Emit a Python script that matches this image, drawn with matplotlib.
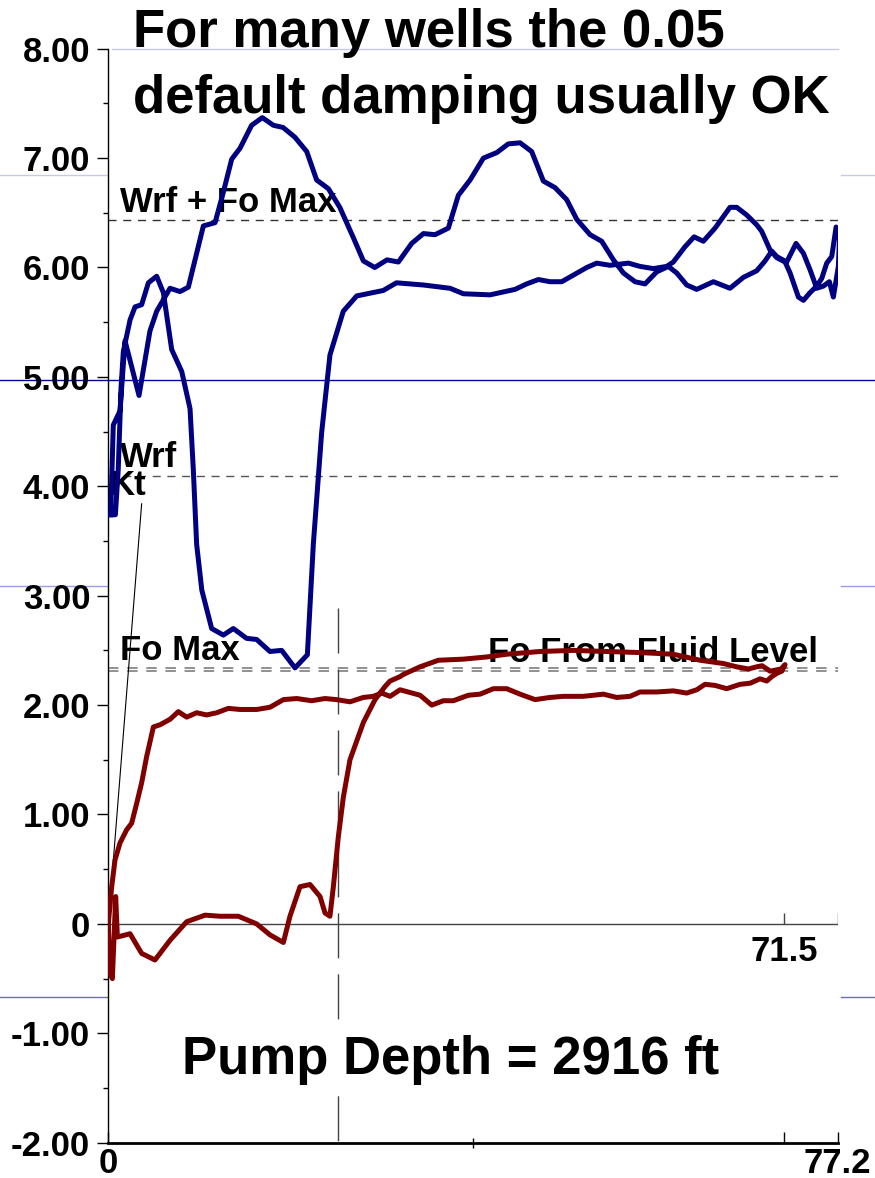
import matplotlib
matplotlib.use("Agg")
import matplotlib.pyplot as plt
from matplotlib.ticker import FixedLocator, FuncFormatter

plt.rcParams['font.family'] = ['Liberation Sans', 'DejaVu Sans']
plt.rcParams['font.weight'] = 'bold'

# ---------- data -------------------------------------------------------------
X_MAX = 77.2            # stroke length
X_MID = 38.6
X_FLUID = 71.5          # net stroke from fluid level
Y_MIN, Y_MAX = -2.0, 8.0

# reference load levels
wrf_fo_max = 6.435
wrf = 4.095
fo_max = 2.343
fo_fluid = 2.316

# Kt (rod stretch) line
kt_x = [0.0, 3.53]
kt_y = [0.0, 3.84]

# vertical marker
mark_x = 24.26
mark_top = 2.89

# surface card (blue loop)
blue_x = [0.25, 0.75, 1.05, 1.35, 1.59, 2.30, 2.83, 3.53, 4.24, 5.12, 5.83, 6.71, 7.77, 8.65,
          9.0, 9.35, 9.9, 10.94, 12.18, 13.23, 14.64, 15.7, 17.11, 18.35, 19.76, 21.07, 21.7,
          22.58, 23.46, 24.87, 26.29, 29.1, 30.5, 33.35, 36.17, 37.58, 40.4, 41.46, 43.05,
          44.28, 45.52, 46.75, 47.99, 49.22, 50.64, 51.69, 53.1, 55.05, 56.28, 57.69, 59.1,
          59.8, 61.04, 62.0, 62.98, 64.22, 65.8, 66.51, 67.57, 68.63, 69.16, 70.04, 70.75,
          71.63, 72.16, 73.04, 73.57, 74.27, 74.98, 75.51, 76.04, 76.57, 77.03, 77.38, 77.27,
          76.74, 76.32, 75.68, 74.98, 74.27, 73.57, 72.79, 71.8, 70.75, 70.22, 69.51, 68.63,
          67.22, 65.8, 64.04, 62.28, 61.22, 60.16, 59.28, 58.04, 56.81, 55.75, 54.52, 53.46,
          52.22, 50.99, 49.58, 48.52, 47.28, 46.05, 44.81, 43.58, 42.34, 41.11, 39.7, 38.29,
          37.05, 35.99, 34.58, 33.35, 32.11, 30.7, 29.5, 28.2, 27.0, 25.9, 24.5, 23.3, 22.05,
          21.0, 19.76, 18.5, 17.47, 16.3, 15.17, 13.94, 13.06, 12.18, 11.3, 10.06, 8.47, 7.59,
          6.53, 5.12, 4.41, 3.25, 1.77, 1.24, 0.53, 0.25]
blue_y = [3.74, 3.74, 4.15, 4.90, 5.23, 5.52, 5.64, 5.66, 5.86, 5.92, 5.77, 5.25, 5.05, 4.71,
          4.15, 3.47, 3.05, 2.70, 2.64, 2.70, 2.61, 2.60, 2.49, 2.50, 2.34, 2.46, 3.47,
          4.49, 5.20, 5.60, 5.74, 5.79, 5.86, 5.84, 5.81, 5.76, 5.75, 5.77, 5.80,
          5.85, 5.89, 5.87, 5.87, 5.93, 6.00, 6.04, 6.02, 6.04, 6.01, 5.99, 6.01,
          6.05, 6.19, 6.28, 6.24, 6.36, 6.55, 6.55, 6.48, 6.39, 6.33, 6.16, 6.09,
          6.05, 5.95, 5.73, 5.70, 5.77, 5.83, 5.90, 6.04, 6.10, 6.37, 6.25, 6.01,
          5.73, 5.87, 5.83, 5.81, 5.98, 6.13, 6.22, 6.05, 6.10, 6.15, 6.06, 5.97,
          5.91, 5.81, 5.87, 5.80, 5.84, 5.95, 6.01, 5.96, 5.85, 5.87, 5.95, 6.07,
          6.24, 6.30, 6.44, 6.62, 6.73, 6.79, 7.06, 7.14, 7.13, 7.05, 7.00, 6.80,
          6.66, 6.36, 6.30, 6.31, 6.22, 6.05, 6.07, 6.00, 6.06, 6.28, 6.55, 6.72, 6.80,
          7.06, 7.19, 7.28, 7.30, 7.37, 7.30, 7.09, 6.99, 6.69, 6.41, 6.38, 5.82, 5.78,
          5.81, 5.60, 5.42, 4.83, 5.33, 4.69, 4.56, 3.74]

# downhole pump card (red loop)
red_x = [0.0, 0.36, 0.71, 1.24, 1.94, 2.47, 3.0, 3.53, 4.06, 4.77, 5.47, 6.53, 7.41, 8.3,
         9.35, 10.41, 11.47, 12.7, 13.94, 15.7, 17.11, 18.53, 19.94, 21.52, 22.93, 24.17,
         25.58, 26.99, 28.05, 28.93, 29.82, 30.88, 33.0, 34.23, 35.47, 36.52, 38.11, 39.35,
         40.76, 42.17, 43.58, 45.17, 46.75, 48.17, 50.28, 52.4, 53.81, 55.22, 56.28, 58.04,
         59.81, 61.22, 62.28, 63.16, 64.22, 65.45, 66.87, 67.92, 68.98, 69.69, 70.22, 70.75,
         71.28, 71.63, 71.2, 70.04, 69.2, 68.63, 67.75, 66.5, 65.1, 62.63, 59.8, 56.3, 52.8,
         49.2, 45.7, 42.17, 40.05, 37.58, 34.94, 33.0, 31.23, 30.87, 29.82, 29.29, 28.23,
         26.99, 25.58, 24.88, 24.35, 23.82, 23.46, 22.94, 22.41, 21.35, 20.29, 19.23, 18.53,
         17.11, 15.7, 13.76, 11.82, 10.24, 8.3, 6.53, 4.94, 3.53, 2.30, 0.96, 0.78, 0.43,
         0.18, 0.0]
red_y = [0.0, 0.34, 0.585, 0.74, 0.86, 0.92, 1.10, 1.29, 1.53, 1.80, 1.82, 1.87, 1.94, 1.89,
         1.93, 1.91, 1.93, 1.97, 1.96, 1.96, 1.98, 2.05, 2.06, 2.04, 2.06, 2.05,
         2.03, 2.07, 2.08, 2.11, 2.08, 2.14, 2.09, 2.00, 2.04, 2.04, 2.09, 2.10,
         2.15, 2.15, 2.10, 2.05, 2.07, 2.08, 2.08, 2.10, 2.07, 2.08, 2.12, 2.12,
         2.13, 2.11, 2.14, 2.19, 2.18, 2.15, 2.19, 2.20, 2.24, 2.22, 2.26, 2.29,
         2.31, 2.37, 2.33, 2.31, 2.36, 2.35, 2.33, 2.35, 2.38, 2.41, 2.465, 2.48, 2.49,
         2.50, 2.49, 2.465, 2.44, 2.42, 2.41, 2.35, 2.28, 2.26, 2.22, 2.17, 2.05,
         1.84, 1.50, 1.16, 0.80, 0.34, 0.07, 0.10, 0.25, 0.36, 0.34, 0.07, -0.17,
         -0.10, 0.0, 0.07, 0.07, 0.08, 0.02, -0.15, -0.33, -0.27, -0.09, -0.12, 0.25, -0.50,
         -0.45, 0.0]

y_major = [-2, -1, 0, 1, 2, 3, 4, 5, 6, 7, 8]
y_minor = [-1.5, -0.5, 0.5, 1.5, 2.5, 3.5, 4.5, 5.5, 6.5, 7.5]

# slide guide lines: (y, colour, [(xmin, xmax) in axes fraction])
guides = [
    (8.0, '#c8c8ee', [(0.005, 1.0)]),
    (6.846, '#c8c8ee', [(-0.15, 0.0), (1.004, 1.05)]),
    (4.973, '#0000a0', [(-0.15, 1.05)]),
    (3.09, '#9a9ae6', [(-0.15, 0.0), (1.004, 1.05)]),
    (-0.667, '#6a6ad0', [(-0.15, 0.0), (1.004, 1.05)]),
]

# ---------- figure -----------------------------------------------------------
fig = plt.figure(figsize=(8.75, 11.78), dpi=100)
ax = fig.add_axes([0.12377, 0.02997, 0.83360, 0.92869])
ax.set_xlim(0, X_MAX)
ax.set_ylim(Y_MIN, Y_MAX)

for y, col, spans in guides:
    for x0, x1 in spans:
        ax.axhline(y, x0, x1, color=col, lw=1.0, clip_on=False, zorder=0.5)

# reference levels
dash = (0, (5.8, 4.8))
ax.axhline(wrf_fo_max, color='#333333', lw=1.0, ls=dash, zorder=1)
ax.axhline(wrf, color='#555555', lw=1.0, ls=dash, zorder=1)
ax.axhline(fo_max, color='#888888', lw=1.3, ls=dash, zorder=1)
ax.axhline(fo_fluid, color='#888888', lw=1.3, ls=dash, zorder=1)

# zero line with its stroke ticks
ax.axhline(0, color='#444444', lw=1.0, zorder=1)
ax.vlines([X_FLUID, X_MAX], 0, 0.1, color='#444444', lw=1.0, zorder=1)
ax.text(X_FLUID, -0.1, f'{X_FLUID}', ha='center', va='top', fontsize=25, zorder=2)

ax.plot([mark_x, mark_x], [mark_top, Y_MIN], color='#444444', lw=1.0,
        ls=(0, (32.4, 11.5)), zorder=1)
ax.plot(kt_x, kt_y, color='black', lw=0.8, zorder=2)

# cards
ax.plot(blue_x, blue_y, color='#000080', lw=3.6, solid_joinstyle='round', zorder=3)
ax.plot(red_x, red_y, color='#800000', lw=3.6, solid_joinstyle='round', zorder=3)

# level labels
lab = dict(fontsize=25, ha='left', va='baseline', zorder=2)
ax.text(1.25, 6.51, 'Wrf + Fo Max', **lab)
ax.text(1.25, 4.18, 'Wrf', **lab)
ax.text(0.18, 3.92, 'Kt', **lab)
ax.text(1.25, 2.41, 'Fo Max', **lab)
ax.text(40.2, 2.39, 'Fo From Fluid Level', **lab)

ax.text(36.2, -1.37, 'Pump Depth = 2916 ft', fontsize=38, ha='center', va='baseline',
        zorder=5, bbox=dict(boxstyle='square,pad=0.2', facecolor='white', edgecolor='none'))

# axes styling
for s in ['top', 'right']:
    ax.spines[s].set_visible(False)
ax.spines['left'].set_linewidth(1.0)
ax.spines['bottom'].set_linewidth(2.0)

ax.yaxis.set_major_locator(FixedLocator(y_major))
ax.yaxis.set_minor_locator(FixedLocator(y_minor))
ax.yaxis.set_major_formatter(FuncFormatter(lambda v, p: '0' if v == 0 else f'{v:.2f}'))
ax.tick_params(axis='y', which='major', direction='out', length=8, width=1.0,
               labelsize=25, pad=5)
ax.tick_params(axis='y', which='minor', direction='out', length=3.8, width=1.0)

ax.xaxis.set_major_locator(FixedLocator([0, X_FLUID, X_MAX]))
ax.xaxis.set_major_formatter(FuncFormatter(
    lambda v, p: '0' if v == 0 else (f'{X_MAX}' if v == X_MAX else '')))
ax.xaxis.set_minor_locator(FixedLocator([X_MID]))
ax.tick_params(axis='x', which='major', direction='in', length=8, width=1.0,
               labelsize=25, pad=3)
ax.tick_params(axis='x', which='minor', direction='inout', length=7, width=1.0)
for lbl in ax.get_yticklabels() + ax.get_xticklabels():
    lbl.set_fontweight('bold')

# headline
fig.text(0.152, 0.9604, 'For many wells the 0.05', fontsize=38, ha='left', va='baseline')
fig.text(0.152, 0.9041, 'default damping usually OK', fontsize=38, ha='left', va='baseline')

fig.savefig('out.png', dpi=100)
